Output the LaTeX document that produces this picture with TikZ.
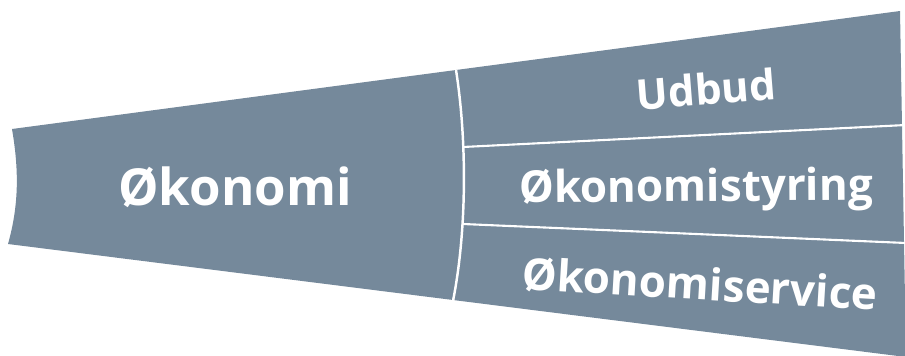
\documentclass[tikz,border=0pt]{standalone}
\usepackage{fontspec}
\setmainfont{Open Sans}
\definecolor{slate}{RGB}{117,137,155}
\tikzset{
    label/.style={text=white, font=\bfseries, inner sep=0pt}
}
\begin{document}
\begin{tikzpicture}[x=0.02cm, y=-0.02cm]
        \useasboundingbox (0,0) rectangle (905,355);
        \fill[slate] (12,129) .. controls (19,170) and (19,205) .. (8,244) -- (906,357) -- (900,11) -- cycle;
        \draw[white, line width=1.4pt] (456,70) .. controls (467,140) and (467,230) .. (453,301);
        \foreach \ya/\yb in {147/125, 224/243} {
            \draw[white, line width=1.2pt] (463,\ya) -- (906,\yb);
        }
        \node[label, font=\bfseries\fontsize{29}{35}\selectfont] (okonomi) at (235,187) {Økonomi};
        \node[label, font=\bfseries\fontsize{24}{30}\selectfont, rotate=4.5] (udbud) at (706,89) {Udbud};
        \node[label, font=\bfseries\fontsize{25}{30}\selectfont, rotate=0.5] (styring) at (696,190) {Økonomistyring};
        \node[label, font=\bfseries\fontsize{25}{30}\selectfont, rotate=-3.4] (service) at (700,284) {Økonomiservice};
    \end{tikzpicture}
\end{document}
